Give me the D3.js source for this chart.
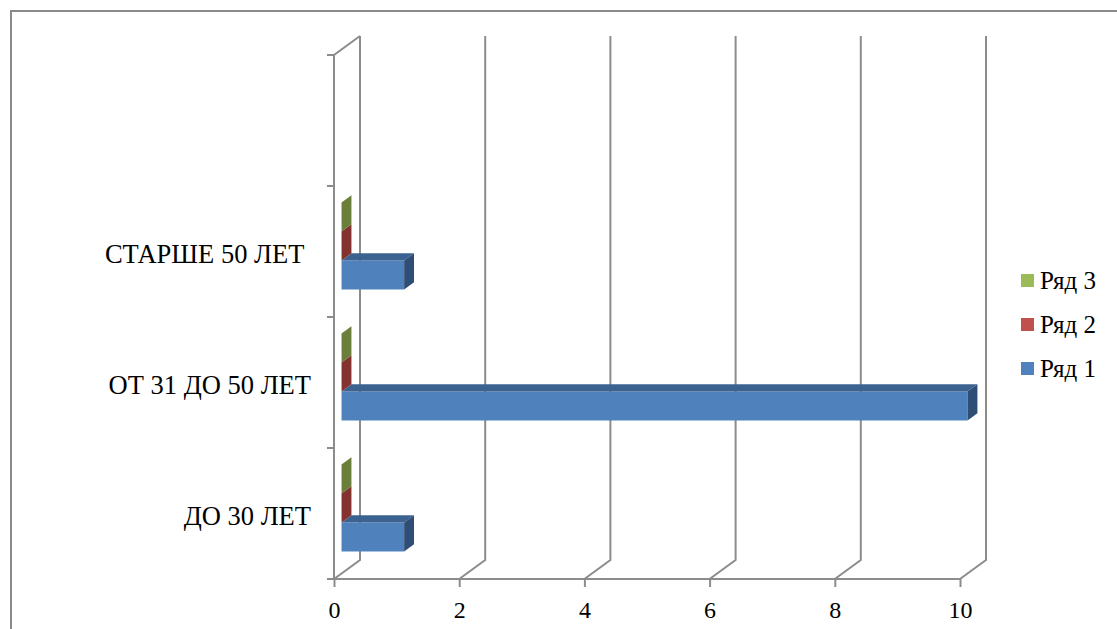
<!DOCTYPE html>
<html>
<head>
<meta charset="utf-8">
<script src="https://cdn.jsdelivr.net/npm/d3@7"></script>
<style>
  body { margin: 0; background: #fff; }
  svg text { font-family: "Liberation Serif", serif !important; }
</style>
</head>
<body>
<svg width="1117" height="629"></svg>
<script>
// categories bottom -> top, the last slot is empty in the original
const categories = ['ДО 30 ЛЕТ', 'ОТ 31 ДО 50 ЛЕТ', 'СТАРШЕ 50 ЛЕТ ', ''];
const seriesNames = ['Ряд 1', 'Ряд 2', 'Ряд 3'];
const ryad1 = [1, 10, 1, null];
const ryad2 = [0, 0, 0, null];
const ryad3 = [0, 0, 0, null];
const xTicks = [0, 2, 4, 6, 8, 10];

const colors = {
  'Ряд 1': { front: '#4f81bd', top: '#3c6291', side: '#2f4e75' },
  'Ряд 2': { front: '#c0504d', top: '#99403d', side: '#843230' },
  'Ряд 3': { front: '#9bbb59', top: '#7c9647', side: '#6b7f3a' }
};
const legendColors = { 'Ряд 1': '#4f81bd', 'Ряд 2': '#c0504d', 'Ряд 3': '#9bbb59' };

const serif = '"Liberation Serif"';
const svg = d3.select('svg');
const grid = '#8c8c8c';

// frame
svg.append('rect')
  .attr('x', 11).attr('y', 11).attr('width', 1130).attr('height', 640)
  .attr('fill', 'none').attr('stroke', '#8a8a8a').attr('stroke-width', 2);

// depth of the 3d box
const dx = 26, dy = -19;
const f0 = 0.29, f1 = 0.67; // bar front/back as part of depth

const x = d3.scaleLinear().domain([0, 10]).range([334, 960]);
const y = d3.scaleBand().domain(categories).range([579, 55]).padding(0);
const bw = y.bandwidth();
const sub = d3.scaleBand().domain(seriesNames).range([bw - 22, 22]).padding(0);

// back wall gridlines + floor diagonals
const g = svg.append('g').attr('fill', 'none').attr('stroke', grid).attr('stroke-width', 2);
xTicks.forEach(t => {
  g.append('path')
    .attr('d', `M${x(t)},579 L${x(t) + dx},${579 + dy} L${x(t) + dx},${55 + dy}`);
});
// left wall
g.append('path').attr('d', `M${x(0)},579 L${x(0)},55 L${x(0) + dx},${55 + dy}`);
// floor front edge
g.append('line').attr('x1', x(0) - 7).attr('x2', x(10)).attr('y1', 579).attr('y2', 579);
// category ticks
const edges = categories.map(c => y(c)).concat([579]);
edges.forEach(e => {
  g.append('line').attr('x1', x(0) - 7).attr('x2', x(0)).attr('y1', e).attr('y2', e);
});

// x axis ticks and labels
const xAxis = d3.axisBottom(x).tickValues(xTicks).tickSize(8).tickSizeOuter(0);
const ax = svg.append('g').attr('transform', 'translate(0,579)').call(xAxis)
  .attr('font-family', null);
ax.select('.domain').remove();
ax.selectAll('line').attr('stroke', grid).attr('stroke-width', 2);
ax.selectAll('text')
  .attr('y', 39).attr('dy', 0)
  .style('font-family', serif, 'important')
  .style('font-size', '24px')
  .style('fill', '#000');

// bars
const data = [];
categories.forEach((c, i) => {
  [ryad1, ryad2, ryad3].forEach((arr, k) => {
    if (arr[i] != null) data.push({ cat: c, s: seriesNames[k], v: arr[i] });
  });
});

const ox = f0 * dx, oy = f0 * dy;
const bdx = (f1 - f0) * dx, bdy = (f1 - f0) * dy;
const bars = svg.append('g');
data.forEach(d => {
  const x0 = x(0) + ox, x1 = x(d.v) + ox;
  const yt = y(d.cat) + sub(d.s) + oy, yb = yt + sub.bandwidth();
  const col = colors[d.s];
  bars.append('rect')
    .attr('x', x0).attr('y', yt).attr('width', x1 - x0).attr('height', yb - yt)
    .attr('fill', col.front);
  bars.append('path')
    .attr('d', `M${x0},${yt} L${x1},${yt} L${x1 + bdx},${yt + bdy} L${x0 + bdx},${yt + bdy}Z`)
    .attr('fill', col.top);
  bars.append('path')
    .attr('d', `M${x1},${yt} L${x1 + bdx},${yt + bdy} L${x1 + bdx},${yb + bdy} L${x1},${yb}Z`)
    .attr('fill', col.side);
});

// category labels
svg.append('g').selectAll('text')
  .data(categories.filter(c => c !== ''))
  .join('text')
  .attr('x', 311)
  .attr('y', d => y(d) + bw / 2 + 11)
  .attr('text-anchor', 'end')
  .style('font-family', serif, 'important')
  .style('font-size', '26.5px')
  .style('white-space', 'pre')
  .text(d => d);

// legend
const legendOrder = ['Ряд 3', 'Ряд 2', 'Ряд 1'];
const ly = d3.scalePoint().domain(legendOrder).range([280, 368]);
const lg = svg.append('g');
legendOrder.forEach(s => {
  lg.append('rect')
    .attr('x', 1021).attr('y', ly(s) - 6).attr('width', 13).attr('height', 13)
    .attr('fill', legendColors[s]);
  lg.append('text')
    .attr('x', 1040).attr('y', ly(s) + 9)
    .style('font-family', serif, 'important')
    .style('font-size', '25px')
    .text(s);
});
</script>
</body>
</html>
